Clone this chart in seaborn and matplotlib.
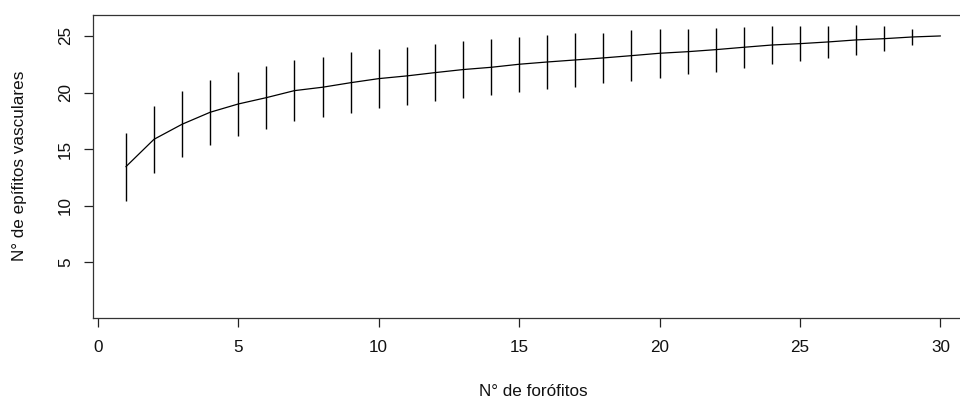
import matplotlib
matplotlib.use("Agg")
import matplotlib.pyplot as plt
import numpy as np
import pandas as pd
import seaborn as sns

# Species accumulation: mean richness and half-width of the bars per number of phorophytes
n_forofitos = list(range(1, 31))
riqueza_media = [13.45, 15.87, 17.20, 18.26, 18.99, 19.55, 20.17, 20.47, 20.87, 21.23,
                 21.47, 21.76, 22.03, 22.23, 22.50, 22.70, 22.88, 23.06, 23.26, 23.47,
                 23.61, 23.79, 24.00, 24.20, 24.32, 24.47, 24.65, 24.76, 24.91, 25.00]
semi_amplitude = [3.00, 2.97, 2.92, 2.85, 2.83, 2.80, 2.70, 2.67, 2.67, 2.60,
                  2.55, 2.55, 2.50, 2.48, 2.43, 2.37, 2.35, 2.23, 2.24, 2.15,
                  2.00, 1.95, 1.80, 1.70, 1.57, 1.45, 1.30, 1.08, 0.72, 0.00]
x_ticks = [0, 5, 10, 15, 20, 25, 30]
y_ticks = [5, 10, 15, 20, 25]
x_label = "N° de forófitos"
y_label = "N° de epífitos vasculares"

df = pd.DataFrame({"x": n_forofitos, "media": riqueza_media, "sd": semi_amplitude})

sns.set_style("white")
plt.rcParams["font.family"] = ["Liberation Sans", "DejaVu Sans"]

fig = plt.figure(figsize=(9.6, 3.98), dpi=100)
ax = fig.add_axes([0.0972, 0.2, 0.9164, 0.7623])

sns.lineplot(data=df, x="x", y="media", ax=ax, color="black", linewidth=0.9)
bars = df[df["sd"] > 0]
ax.vlines(bars["x"], bars["media"] - bars["sd"], bars["media"] + bars["sd"],
          color="black", linewidth=1.0)

ax.set_xlim(-0.16, 31.16)
ax.set_ylim(0.05, 26.85)
ax.set_xticks(x_ticks)
ax.set_yticks(y_ticks)
ax.set_xticklabels([str(v) for v in x_ticks])
ax.set_yticklabels([str(v) for v in y_ticks], rotation=90, va="center")

for s in ax.spines.values():
    s.set_visible(True)
    s.set_color("#333333")
    s.set_linewidth(0.9)

ax.tick_params(axis="both", direction="out", length=6.5, width=0.9, color="#222222",
               labelsize=12.3, labelcolor="#111111", bottom=True, left=True)
ax.tick_params(axis="x", pad=9)
ax.tick_params(axis="y", pad=8)

ax.set_xlabel(x_label, fontsize=12.3, color="#111111", va="center")
ax.set_ylabel(y_label, fontsize=12.3, color="#111111", va="center")
ax.xaxis.set_label_coords(0.5, -0.242)
ax.yaxis.set_label_coords(-0.0835, 0.502)

fig.savefig("out.png", dpi=100)
